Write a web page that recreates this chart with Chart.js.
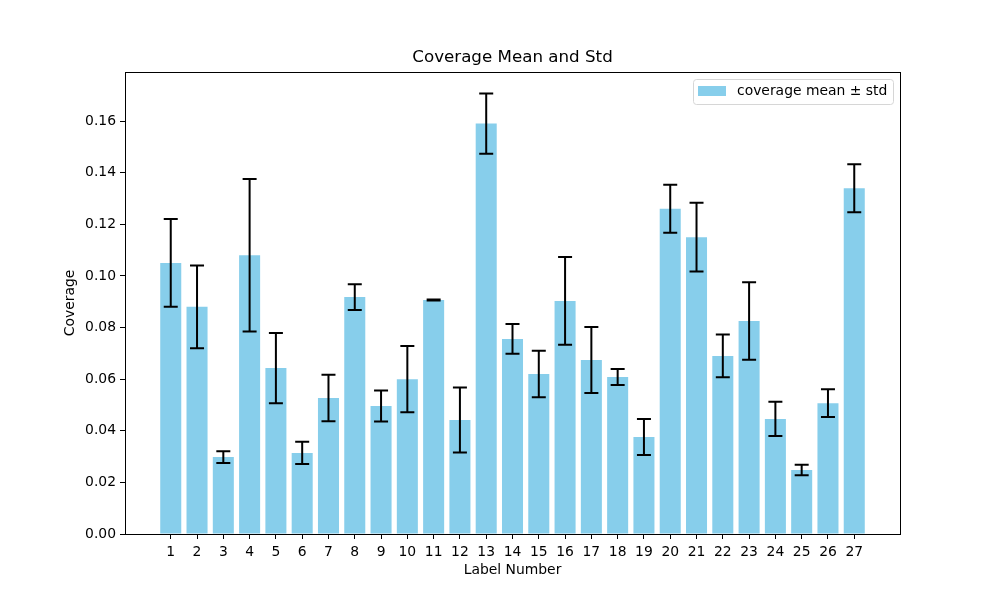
<!DOCTYPE html>
<html>
<head>
<meta charset="utf-8">
<script src="https://cdn.jsdelivr.net/npm/chart.js@4"></script>
<style>
  html, body { margin: 0; padding: 0; background: #fff; }
  #wrap { width: 1000px; height: 600px; }
</style>
</head>
<body>
<div id="wrap"><canvas id="coverageChart" width="1000" height="600"></canvas></div>
<script>
const labelNumbers = [1, 2, 3, 4, 5, 6, 7, 8, 9, 10, 11, 12, 13, 14, 15, 16, 17, 18, 19, 20, 21, 22, 23, 24, 25, 26, 27];
const coverageMean = [0.105, 0.088, 0.0298, 0.108, 0.0643, 0.0314, 0.0527, 0.0918, 0.0496, 0.060, 0.0907, 0.0442, 0.159, 0.0756,
    0.062, 0.0903, 0.0674, 0.0608, 0.0376, 0.126, 0.115, 0.069, 0.0825, 0.0446, 0.0248, 0.0507, 0.134];
const coverageStd = [0.017, 0.016, 0.0023, 0.0295, 0.0136, 0.0043, 0.009, 0.005, 0.006, 0.0128, 0.0002, 0.0126, 0.0117, 0.0058,
    0.009, 0.017, 0.0128, 0.0031, 0.007, 0.0093, 0.0133, 0.0083, 0.015, 0.0066, 0.002, 0.0054, 0.0093];
const yTicks = [0, 0.02, 0.04, 0.06, 0.08, 0.10, 0.12, 0.14, 0.16];

const FONT = "'DejaVu Sans', sans-serif";
const BAR_COLOR = '#87CEEB';

// error bars, frame, title and legend box
const extrasPlugin = {
    id: 'extras',
    afterDatasetsDraw(chart) {
        const { ctx, scales: { x, y } } = chart;
        ctx.save();
        ctx.strokeStyle = '#000';
        ctx.lineWidth = 2;
        labelNumbers.forEach((lbl, i) => {
            const px = x.getPixelForValue(lbl);
            const top = y.getPixelForValue(coverageMean[i] + coverageStd[i]);
            const bot = y.getPixelForValue(coverageMean[i] - coverageStd[i]);
            ctx.beginPath();
            ctx.moveTo(px, top); ctx.lineTo(px, bot);
            ctx.moveTo(px - 7, top); ctx.lineTo(px + 7, top);
            ctx.moveTo(px - 7, bot); ctx.lineTo(px + 7, bot);
            ctx.stroke();
        });
        ctx.restore();
    },
    afterDraw(chart) {
        const { ctx, chartArea: a } = chart;
        ctx.save();
        ctx.strokeStyle = '#000';
        ctx.lineWidth = 1;
        ctx.strokeRect(Math.round(a.left) + 0.5, Math.round(a.top) + 0.5, Math.round(a.right - a.left), Math.round(a.bottom - a.top));

        // title
        ctx.fillStyle = '#000';
        ctx.font = `16.7px ${FONT}`;
        ctx.textAlign = 'center';
        ctx.textBaseline = 'middle';
        ctx.fillText('Coverage Mean and Std', (a.left + a.right) / 2, 58);

        // legend
        const bx = 693, by = 79, bw = 200, bh = 25;
        ctx.beginPath();
        ctx.roundRect(bx + 0.5, by + 0.5, bw, bh, 3);
        ctx.fillStyle = 'rgba(255,255,255,0.8)';
        ctx.fill();
        ctx.strokeStyle = '#d6d6d6';
        ctx.stroke();
        ctx.fillStyle = BAR_COLOR;
        ctx.fillRect(698, 86, 28, 10);
        ctx.fillStyle = '#000';
        ctx.font = `13.9px ${FONT}`;
        ctx.textAlign = 'left';
        ctx.fillText('coverage mean ± std', 737, 91);
        ctx.restore();
    }
};

new Chart(document.getElementById('coverageChart'), {
    type: 'bar',
    data: {
        datasets: [{
            label: 'coverage mean ± std',
            data: labelNumbers.map((n, i) => ({ x: n, y: coverageMean[i] })),
            backgroundColor: BAR_COLOR,
            borderWidth: 0,
            categoryPercentage: 0.8,
            barPercentage: 1.0
        }]
    },
    options: {
        responsive: false,
        animation: false,
        layout: { padding: { left: 58, right: 100, top: 72, bottom: 18 } },
        plugins: {
            legend: { display: false },
            tooltip: { enabled: false },
            title: { display: false }
        },
        scales: {
            x: {
                type: 'linear',
                offset: false,
                min: -0.74,
                max: 28.74,
                afterBuildTicks: (s) => { s.ticks = labelNumbers.map(v => ({ value: v })); },
                afterFit: (s) => { s.height = 48; },
                ticks: {
                    autoSkip: false, maxRotation: 0, padding: 5,
                    color: '#000', font: { family: FONT, size: 13.9 },
                    callback: (v) => String(v)
                },
                grid: { drawOnChartArea: false, offset: false, tickLength: 5, color: '#000' },
                border: { color: '#000' },
                title: { display: true, text: 'Label Number', color: '#000', font: { family: FONT, size: 13.9 }, padding: { top: 0, bottom: 3 } }
            },
            y: {
                min: 0,
                max: 0.179,
                afterBuildTicks: (s) => { s.ticks = yTicks.map(v => ({ value: v })); },
                afterFit: (s) => { s.width = 67; },
                ticks: {
                    padding: 4, color: '#000', font: { family: FONT, size: 13.9 },
                    callback: (v) => v.toFixed(2)
                },
                grid: { drawOnChartArea: false, tickLength: 5, color: '#000' },
                border: { color: '#000' },
                title: { display: true, text: 'Coverage', color: '#000', font: { family: FONT, size: 13.9 }, padding: { top: 4, bottom: 0 } }
            }
        }
    },
    plugins: [extrasPlugin]
});
</script>
</body>
</html>
